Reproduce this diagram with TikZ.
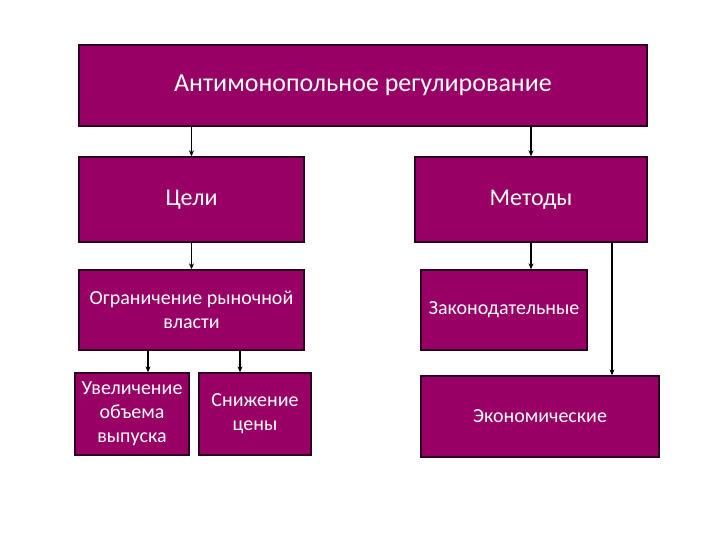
\documentclass[tikz,border=0pt]{standalone}
\usepackage{fontspec}
\setmainfont{Carlito}
\usetikzlibrary{calc,arrows.meta}
\definecolor{boxpurple}{RGB}{153,0,102}
\definecolor{boxedge}{RGB}{45,0,35}
\tikzset{
  block/.style={draw=boxedge, line width=1.3pt, fill=boxpurple, text=white, align=center, inner sep=2pt},
  toptext/.style={font=\fontsize{26}{30}\selectfont},
  bigtext/.style={font=\fontsize{24}{28}\selectfont},
  smalltext/.style={font=\fontsize{20}{24}\selectfont},
  link/.style={-{Stealth[length=6pt,width=5pt]}, line width=1.3pt}
}
\begin{document}
\begin{tikzpicture}[x=1pt,y=-1pt]
    \useasboundingbox (0,0) rectangle (720,540);

    % Top
    \node[block, toptext, minimum width=568pt, minimum height=81pt] (reg) at (363,85.5) {Антимонопольное регулирование};

    % Goals and methods
    \node[block, bigtext, minimum width=225pt, minimum height=85pt] (goals) at (191.5,199.5) {Цели};
    \node[block, bigtext, minimum width=232pt, minimum height=85pt] (methods) at (531,199.5) {Методы};

    % Goals branch
    \node[block, smalltext, minimum width=225pt, minimum height=80pt] (limit) at (191.5,310) {Ограничение рыночной\\власти};
    \node[block, smalltext, minimum width=114pt, minimum height=82pt] (output) at (132,414) {Увеличение\\объема\\выпуска};
    \node[block, smalltext, minimum width=112pt, minimum height=82pt] (price) at (255,414) {Снижение\\цены};

    % Methods branch
    \node[block, smalltext, minimum width=166pt, minimum height=80pt] (legal) at (504,310) {Законодательные};
    \node[block, smalltext, minimum width=238pt, minimum height=81pt] (econ) at (540,416.5) {Экономические};

    % Arrows
    \draw[link] (reg.south -| goals) -- (goals.north);
    \draw[link] (reg.south -| methods) -- (methods.north);
    \draw[link] (goals.south) -- (limit.north);
    \draw[link] (methods.south) -- (methods.south |- legal.north);
    \coordinate (econtap) at ($(methods.south)+(81,0)$);
    \draw[link] (econtap) -- (econtap |- econ.north);
    \coordinate (lefttap) at ($(limit.south)+(-43.5,0)$);
    \coordinate (righttap) at ($(limit.south)+(48.5,0)$);
    \draw[link] (lefttap) -- (lefttap |- output.north);
    \draw[link] (righttap) -- (righttap |- price.north);
\end{tikzpicture}
\end{document}
